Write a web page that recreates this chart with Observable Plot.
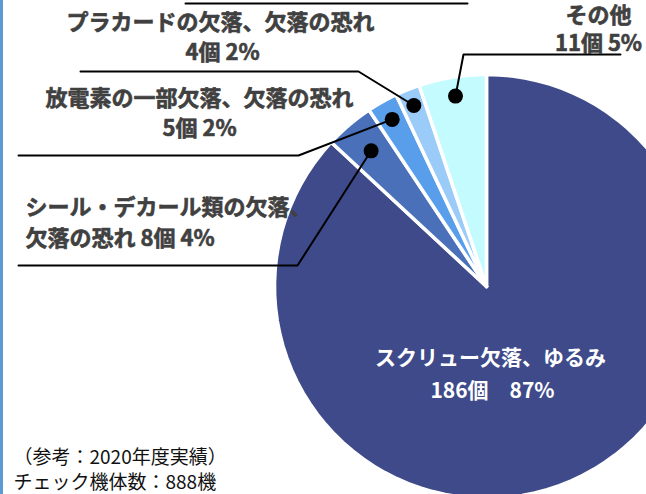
<!DOCTYPE html>
<html><head><meta charset="utf-8">
<script src="https://cdn.jsdelivr.net/npm/d3@7"></script>
<script src="https://cdn.jsdelivr.net/npm/@observablehq/plot@0.6"></script>
<style>
html,body{margin:0;padding:0;background:#fff;}
#wrap{position:relative;width:646px;height:494px;overflow:hidden;}
#bar{position:absolute;left:0;top:0;width:3px;height:494px;background:#5B9BD5;}
#wrap svg{display:block;}
</style></head><body><div id="wrap"><div id="bar"></div></div>
<script>
// ---- data ----
const categories = ["スクリュー欠落、ゆるみ", "シール・デカール類の欠落、欠落の恐れ", "放電素の一部欠落、欠落の恐れ", "プラカードの欠落、欠落の恐れ", "その他"];
const counts = [186, 8, 5, 4, 11];
const percents = [87, 4, 2, 2, 5];
const colors = ["#3E4A89", "#4A70BA", "#589EEB", "#9ACBF9", "#C4FBFF"];
const footnote = ["（参考：2020年度実績）", "チェック機体数：888機"];

// label text lines (built from data)
const labelLines = [
  ["スクリュー欠落、ゆるみ", `${counts[0]}個　${percents[0]}%`],
  ["シール・デカール類の欠落、", `欠落の恐れ ${counts[1]}個 ${percents[1]}%`],
  ["放電素の一部欠落、欠落の恐れ", `${counts[2]}個 ${percents[2]}%`],
  ["プラカードの欠落、欠落の恐れ", `${counts[3]}個 ${percents[3]}%`],
  ["その他", `${counts[4]}個 ${percents[4]}%`]
];

// ---- layout ----
const W = 646, H = 494, CX = 486, CY = 286, R = 212;
const ux = px => (px - CX) / R, uy = py => (CY - py) / R;
const dotRadius = [null, 0.84, 0.905, 0.92, 0.91];
const labelPos = [ // [x, y, anchor] for line 1 and line 2 (pixels)
  [[490, 358, "middle"], [492, 391, "middle"]],
  [[25, 207, "start"], [25, 238, "start"]],
  [[199, 98, "middle"], [199, 128, "middle"]],
  [[220, 22, "middle"], [222, 52, "middle"]],
  [[598, 15, "middle"], [598, 43, "middle"]]
];
const leaderPath = [null, [[297, 265], [18, 265]], [[298, 155], [18, 155]], [[358, 71], [80, 71]], [[463, 54], [620, 54]]];

const data = categories.map((name, i) => ({name, count: counts[i], color: colors[i], i}));
const arcs = d3.pie().sort(null).value(d => d.count)(data);

const slicePts = [];
for (const a of arcs) {
  slicePts.push({name: a.data.name, color: a.data.color, x: 0, y: 0});
  const n = 90;
  for (let k = 0; k <= n; k++) {
    const t = a.startAngle + (a.endAngle - a.startAngle) * k / n;
    slicePts.push({name: a.data.name, color: a.data.color, x: Math.sin(t), y: Math.cos(t)});
  }
  slicePts.push({name: a.data.name, color: a.data.color, x: 0, y: 0});
}

const dots = arcs.filter(a => dotRadius[a.data.i] != null).map(a => {
  const m = (a.startAngle + a.endAngle) / 2, r = dotRadius[a.data.i];
  return {i: a.data.i, x: r * Math.sin(m), y: r * Math.cos(m)};
});
const leaders = [];
for (const d of dots) {
  leaders.push({i: d.i, x: d.x, y: d.y});
  for (const [px, py] of leaderPath[d.i]) leaders.push({i: d.i, x: ux(px), y: uy(py)});
}

const labels = [];
labelLines.forEach((lines, i) => lines.forEach((t, j) => {
  const [px, py, anchor] = labelPos[i][j];
  labels.push({text: t, x: ux(px), y: uy(py), anchor, white: i === 0});
}));
const notes = footnote.map((t, j) => ({text: t, x: ux(13), y: uy(457 + j * 25)}));
const topLine = [{x: ux(185), y: uy(3)}, {x: ux(467), y: uy(3)}];

const labelFont = '"Liberation Sans Narrow", "Arial Narrow", "Noto Sans CJK JP", sans-serif';

const textMark = (rows, opts) => ["start", "middle", "end"].map(an =>
  Plot.text(rows.filter(r => r.anchor === an), {x: "x", y: "y", text: "text", textAnchor: an, lineAnchor: "middle", ...opts}));

const chart = Plot.plot({
  width: W, height: H, margin: 0,
  x: {domain: [ux(0), ux(W)], axis: null},
  y: {domain: [uy(H), uy(0)], axis: null},
  color: {type: "identity"},
  style: {background: "transparent", overflow: "hidden"},
  marks: [
    Plot.line(slicePts, {x: "x", y: "y", z: "name", fill: "color", stroke: "#fff", strokeWidth: 3.5, strokeLinejoin: "miter", strokeOpacity: 1}),
    Plot.line(leaders, {x: "x", y: "y", z: "i", stroke: "#000", strokeWidth: 2}),
    Plot.dot(dots, {x: "x", y: "y", r: 7.5, fill: "#000", stroke: "none"}),
    Plot.line(topLine, {x: "x", y: "y", stroke: "#000", strokeWidth: 2}),
    ...textMark(labels.filter(d => !d.white), {fill: "#404040", stroke: "#404040", strokeWidth: 0.6, fontSize: 22, fontWeight: "bold", fontFamily: labelFont}),
    ...textMark(labels.filter(d => d.white), {fill: "#fff", fontSize: 21, fontWeight: "bold", fontFamily: labelFont}),
    Plot.text(notes, {x: "x", y: "y", text: "text", textAnchor: "start", lineAnchor: "middle", fill: "#111", fontSize: 19, fontFamily: '"Noto Sans CJK JP", sans-serif'})
  ]
});
document.getElementById("wrap").appendChild(chart);
</script>
</body></html>
